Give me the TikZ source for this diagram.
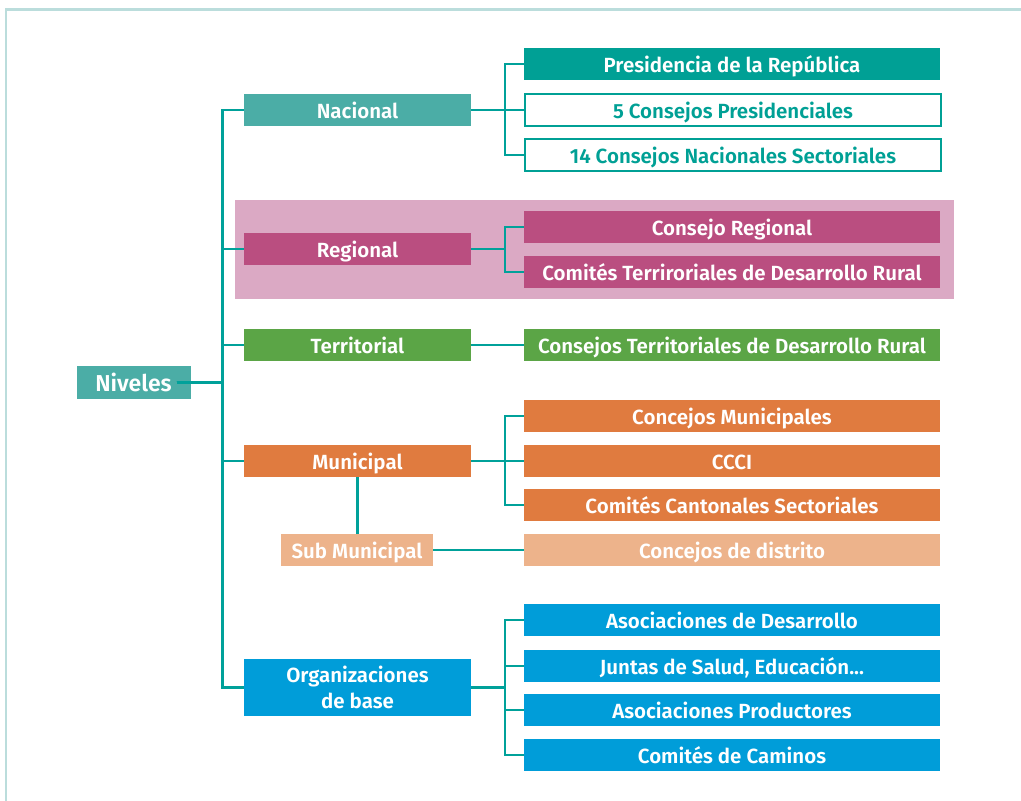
\documentclass[tikz,border=0pt]{standalone}
\usepackage{fontspec}
\setmainfont{Fira Sans}[BoldFont={Fira Sans SemiBold}]
\usepackage{tikz}

\definecolor{niveles}{HTML}{4BADA6}
\definecolor{presid}{HTML}{00A095}
\definecolor{region}{HTML}{BA4E80}
\definecolor{banda}{HTML}{DBA9C4}
\definecolor{territ}{HTML}{5BA546}
\definecolor{munic}{HTML}{E07B3F}
\definecolor{submun}{HTML}{EDB38B}
\definecolor{orgbase}{HTML}{009DD9}
\definecolor{linea}{HTML}{00A19A}
\definecolor{marco}{HTML}{BBDDDC}

\begin{document}
\begin{tikzpicture}[x=1pt, y=-1pt,
    every node/.style={font=\bfseries\fontsize{20.5}{25.5}\selectfont, text=white, inner sep=0pt, align=center, text height=16pt, text depth=0pt},
    lvl/.style={rectangle, minimum width=227pt, minimum height=32pt},
    item/.style={rectangle, minimum width=416pt, minimum height=32pt},
    conn/.style={draw=linea, line width=2.5pt}]
			\useasboundingbox (0,0) rectangle (1021,801);
			% Frame
			\draw[marco, line width=2.5pt] (6,801) |- (1021,9.5);
			\fill[banda] (235,200) rectangle (954,299);
			% Nodes
			\node[fill=niveles, minimum width=114pt, minimum height=33pt, text height=18.4pt, font=\bfseries\fontsize{23}{27}\selectfont] (niv) at (133.5,382.5) {Niveles};
			\node[lvl, fill=niveles] (nac) at (357.5,110) {Nacional};
			\node[lvl, fill=region] (reg) at (357.5,249) {Regional};
			\node[lvl, fill=territ] (ter) at (357.5,345) {Territorial};
			\node[lvl, fill=munic] (mun) at (357.5,461) {Municipal};
			\node[fill=submun, minimum width=152pt, minimum height=32pt] (sub) at (357,550) {Sub Municipal};
			\node[lvl, fill=orgbase, minimum height=57pt, text height=41.6pt] (org) at (357.5,687.5) {Organizaciones\\de base};
			\node[item, fill=presid] (pres) at (732,64) {Presidencia de la República};
			\node[item, draw=presid, line width=2.5pt, text=presid] (cpres) at (733,110) {5 Consejos Presidenciales};
			\node[item, draw=presid, line width=2.5pt, text=presid] (cnac) at (733,155) {14 Consejos Nacionales Sectoriales};
			\node[item, fill=region] (creg) at (732,227) {Consejo Regional};
			\node[item, fill=region] (ctdr) at (732,272) {Comités Terriroriales de Desarrollo Rural};
			\node[item, fill=territ] (cter) at (732,345) {Consejos Territoriales de Desarrollo Rural};
			\node[item, fill=munic] (cmun) at (732,416) {Concejos Municipales};
			\node[item, fill=munic] (ccci) at (732,461) {CCCI};
			\node[item, fill=munic] (ccan) at (732,505) {Comités Cantonales Sectoriales};
			\node[item, fill=submun] (cdis) at (732,550) {Concejos de distrito};
			\node[item, fill=orgbase] (adesa) at (732,620) {Asociaciones de Desarrollo};
			\node[item, fill=orgbase] (juntas) at (732,666) {Juntas de Salud, Educación...};
			\node[item, fill=orgbase] (aprod) at (732,710) {Asociaciones Productores};
			\node[item, fill=orgbase] (camin) at (732,755) {Comités de Caminos};
			% Edges
			\foreach \n in {nac,reg,ter,mun,org}
				\draw[conn] ([xshift=-14pt]niv.east) -- ++(46,0) |- (\n.west);
			\foreach \n in {pres,cpres,cnac}
				\draw[conn] (nac.east) -- ++(34,0) |- (\n.west);
			\foreach \n in {creg,ctdr}
				\draw[conn] (reg.east) -- ++(34,0) |- (\n.west);
			\draw[conn] (ter.east) -- (cter.west);
			\foreach \n in {cmun,ccci,ccan}
				\draw[conn] (mun.east) -- ++(34,0) |- (\n.west);
			\draw[conn] (mun.south) -- (mun.south |- sub.north);
			\draw[conn] (sub.east) -- (cdis.west);
			\foreach \n in {adesa,juntas,aprod,camin}
				\draw[conn] (org.east) -- ++(34,0) |- (\n.west);
		\end{tikzpicture}
\end{document}
